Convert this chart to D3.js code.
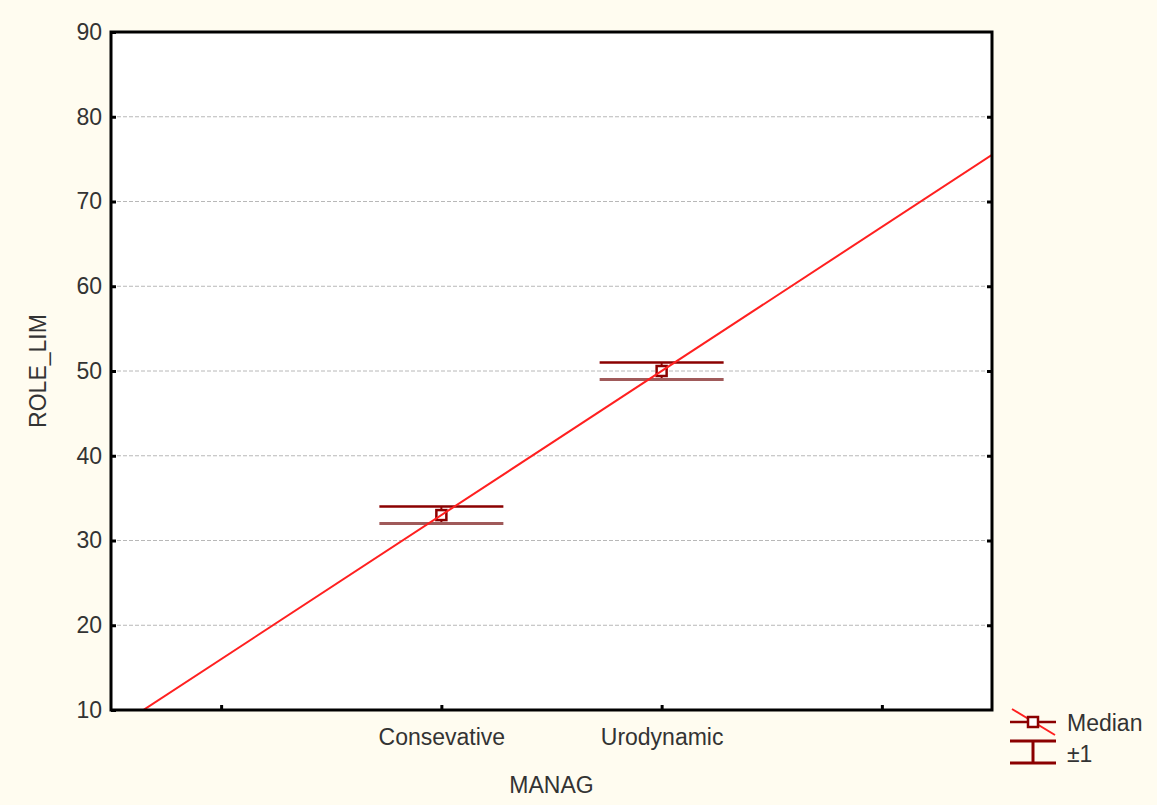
<!DOCTYPE html>
<html>
<head>
<meta charset="utf-8">
<script src="https://cdn.jsdelivr.net/npm/d3@7"></script>
<style>
  body { margin: 0; background: #fffcf0; }
  svg { display: block; font-family: "Liberation Sans", Arial, sans-serif; }
</style>
</head>
<body>
<script>
// data
const categories = ["Consevative", "Urodynamic"];
const medians = [33, 50];
const upper = [34, 51];
const lower = [32, 49];
const yTicks = [10, 20, 30, 40, 50, 60, 70, 80, 90];
// regression line endpoints (category units)
const fitX = [0, 4];

const width = 1157, height = 805;
const margin = { left: 111, right: 165, top: 32, bottom: 95 };
const fontSize = "23px";

const svg = d3.select("body").append("svg")
  .attr("width", width)
  .attr("height", height);

svg.append("rect").attr("width", width).attr("height", height).attr("fill", "#fffcf0");

// scales: categories sit at 1.5 and 2.5 on a 0..4 axis
const x = d3.scaleLinear().domain([0, 4]).range([margin.left, width - margin.right]);
const y = d3.scaleLinear().domain([10, 90]).range([height - margin.bottom, margin.top]);
const catPos = (i) => i + 1.5;

// plot area
svg.append("rect")
  .attr("x", x(0)).attr("y", y(90))
  .attr("width", x(4) - x(0)).attr("height", y(10) - y(90))
  .attr("fill", "#ffffff");

// grid lines
svg.append("g").selectAll("line")
  .data(yTicks.filter(d => d > 10 && d < 90))
  .enter().append("line")
  .attr("x1", x(0)).attr("x2", x(4))
  .attr("y1", d => y(d)).attr("y2", d => y(d))
  .attr("stroke", "#b8b8b8")
  .attr("stroke-width", 1)
  .attr("stroke-dasharray", "4,2");

// clip for the fit line
svg.append("clipPath").attr("id", "plot")
  .append("rect")
  .attr("x", x(0)).attr("y", y(90))
  .attr("width", x(4) - x(0)).attr("height", y(10) - y(90));

// regression line through the medians
const slope = (medians[1] - medians[0]) / (catPos(1) - catPos(0));
const fit = (v) => medians[0] + slope * (v - catPos(0));

// error bars
const half = 62;
const bars = svg.append("g").selectAll("g")
  .data(categories.map((c, i) => ({ c, i })))
  .enter().append("g");

bars.append("line")
  .attr("x1", d => x(catPos(d.i))).attr("x2", d => x(catPos(d.i)))
  .attr("y1", d => y(upper[d.i])).attr("y2", d => y(lower[d.i]))
  .attr("stroke", "#8b0000").attr("stroke-width", 2);

bars.append("line")
  .attr("x1", d => x(catPos(d.i)) - half).attr("x2", d => x(catPos(d.i)) + half)
  .attr("y1", d => y(upper[d.i])).attr("y2", d => y(upper[d.i]))
  .attr("stroke", "#8b0000").attr("stroke-width", 2.5);

bars.append("line")
  .attr("x1", d => x(catPos(d.i)) - half).attr("x2", d => x(catPos(d.i)) + half)
  .attr("y1", d => y(lower[d.i])).attr("y2", d => y(lower[d.i]))
  .attr("stroke", "#a05a5a").attr("stroke-width", 3);

bars.append("rect")
  .attr("x", d => x(catPos(d.i)) - 5).attr("y", d => y(medians[d.i]) - 5)
  .attr("width", 10).attr("height", 10)
  .attr("fill", "#ffffff").attr("stroke", "#8b0000").attr("stroke-width", 2.5);

// fit line drawn over the markers
svg.append("line")
  .attr("clip-path", "url(#plot)")
  .attr("x1", x(fitX[0])).attr("y1", y(fit(fitX[0])))
  .attr("x2", x(fitX[1])).attr("y2", y(fit(fitX[1])))
  .attr("stroke", "#ff2020")
  .attr("stroke-width", 2);

// axes (ticks pointing inward)
const yAxis = d3.axisLeft(y).tickValues(yTicks).tickSize(-5).tickPadding(9);
svg.append("g").attr("transform", `translate(${x(0)},0)`).call(yAxis);
const yAxisR = d3.axisRight(y).tickValues(yTicks.filter(d => d > 10 && d < 90)).tickSize(-5).tickFormat("");
svg.append("g").attr("transform", `translate(${x(4)},0)`).call(yAxisR);

const xAxis = d3.axisBottom(x)
  .tickValues([0.5, 1.5, 2.5, 3.5])
  .tickSize(-5).tickPadding(19)
  .tickFormat(d => (d === 1.5 ? categories[0] : d === 2.5 ? categories[1] : ""));
svg.append("g").attr("transform", `translate(0,${y(10)})`).call(xAxis);

svg.selectAll(".domain").remove();
svg.selectAll(".tick line").attr("stroke", "#000").attr("stroke-width", 3);
svg.selectAll(".tick text").attr("fill", "#333").style("font-size", fontSize);

// frame
svg.append("rect")
  .attr("x", x(0)).attr("y", y(90))
  .attr("width", x(4) - x(0)).attr("height", y(10) - y(90))
  .attr("fill", "none").attr("stroke", "#000").attr("stroke-width", 3);

// axis titles
svg.append("text")
  .attr("x", (x(0) + x(4)) / 2).attr("y", 793)
  .attr("text-anchor", "middle")
  .attr("fill", "#333").style("font-size", fontSize)
  .text("MANAG");
svg.append("text")
  .attr("transform", `translate(46,${(y(10) + y(90)) / 2}) rotate(-90)`)
  .attr("text-anchor", "middle")
  .attr("fill", "#333").style("font-size", fontSize)
  .text("ROLE_LIM");

// legend
const lg = svg.append("g").attr("transform", "translate(1010,722)");
lg.append("line").attr("x1", 0).attr("x2", 46).attr("y1", 0).attr("y2", 0)
  .attr("stroke", "#8b0000").attr("stroke-width", 2.5);
lg.append("line").attr("x1", 2).attr("x2", 45).attr("y1", -13).attr("y2", 13)
  .attr("stroke", "#ff2020").attr("stroke-width", 2);
lg.append("rect").attr("x", 18).attr("y", -5).attr("width", 10).attr("height", 10)
  .attr("fill", "#fff").attr("stroke", "#8b0000").attr("stroke-width", 2.5);
lg.append("text").attr("x", 57).attr("y", 9).attr("fill", "#333")
  .style("font-size", fontSize).text("Median");

const lg2 = svg.append("g").attr("transform", "translate(1010,752)");
lg2.append("line").attr("x1", 0).attr("x2", 46).attr("y1", -11).attr("y2", -11)
  .attr("stroke", "#8b0000").attr("stroke-width", 3);
lg2.append("line").attr("x1", 0).attr("x2", 46).attr("y1", 11).attr("y2", 11)
  .attr("stroke", "#8b0000").attr("stroke-width", 3);
lg2.append("line").attr("x1", 23).attr("x2", 23).attr("y1", -11).attr("y2", 11)
  .attr("stroke", "#8b0000").attr("stroke-width", 3);
lg2.append("text").attr("x", 57).attr("y", 10).attr("fill", "#333")
  .style("font-size", fontSize).text("±1");
</script>
</body>
</html>
